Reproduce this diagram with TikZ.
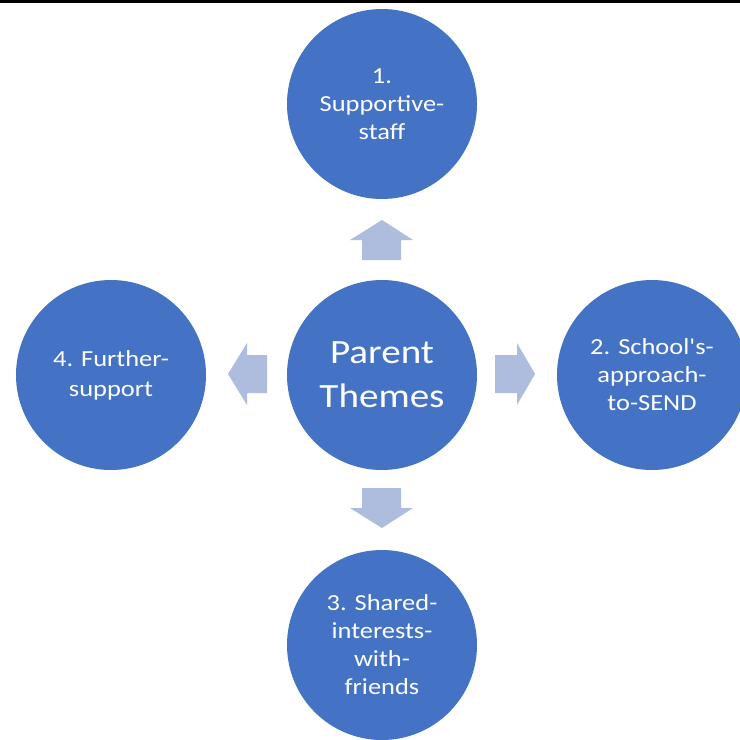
\documentclass[tikz,border=0pt]{standalone}
\usepackage{fontspec}
\newfontfamily\calfont[FakeStretch=1.15]{Carlito}
\definecolor{circblue}{RGB}{68,114,196}
\definecolor{arrblue}{RGB}{174,189,222}
\begin{document}
\begin{tikzpicture}[x=1pt,y=-1pt,
  theme/.style={circle,fill=circblue,draw=none,minimum size=190pt,inner sep=0pt,
    text=white,align=center,font=\calfont\fontsize{23}{28}\selectfont},
  hub/.style={theme,font=\calfont\fontsize{34}{44}\selectfont},
  blockarrow/.style={fill=arrblue,draw=none}]
\useasboundingbox (0,0) rectangle (740,740);
\fill[white] (0,0) rectangle (740,740);
\fill[black] (0,0) rectangle (740,2.5);
\node[hub] (c) at (382,375) {Parent\\Themes};
\node[theme] (t) at (382,104) {1.\\Supportive-\\staff};
\node[theme] (r) at (652,375) {2. School's-\\approach-\\to-SEND};
\node[theme] (b) at (382,645) {3. Shared-\\interests-\\with-\\friends};
\node[theme,font=\calfont\fontsize{23}{30}\selectfont] (l) at (111,375) {4. Further-\\support};
% up arrow
\fill[blockarrow] (362,260) -- (362,240) -- (350,240) -- (382,220) -- (413,240) -- (401,240) -- (401,260) -- cycle;
% down arrow
\fill[blockarrow] (362,488) -- (362,508) -- (350,508) -- (382,528) -- (413,508) -- (401,508) -- (401,488) -- cycle;
% right arrow
\fill[blockarrow] (495,355) -- (517,355) -- (517,343) -- (535,374) -- (517,405) -- (517,393) -- (495,393) -- cycle;
% left arrow
\fill[blockarrow] (267,355) -- (247,355) -- (247,343) -- (228,374) -- (247,405) -- (247,393) -- (267,393) -- cycle;
\end{tikzpicture}
\end{document}
